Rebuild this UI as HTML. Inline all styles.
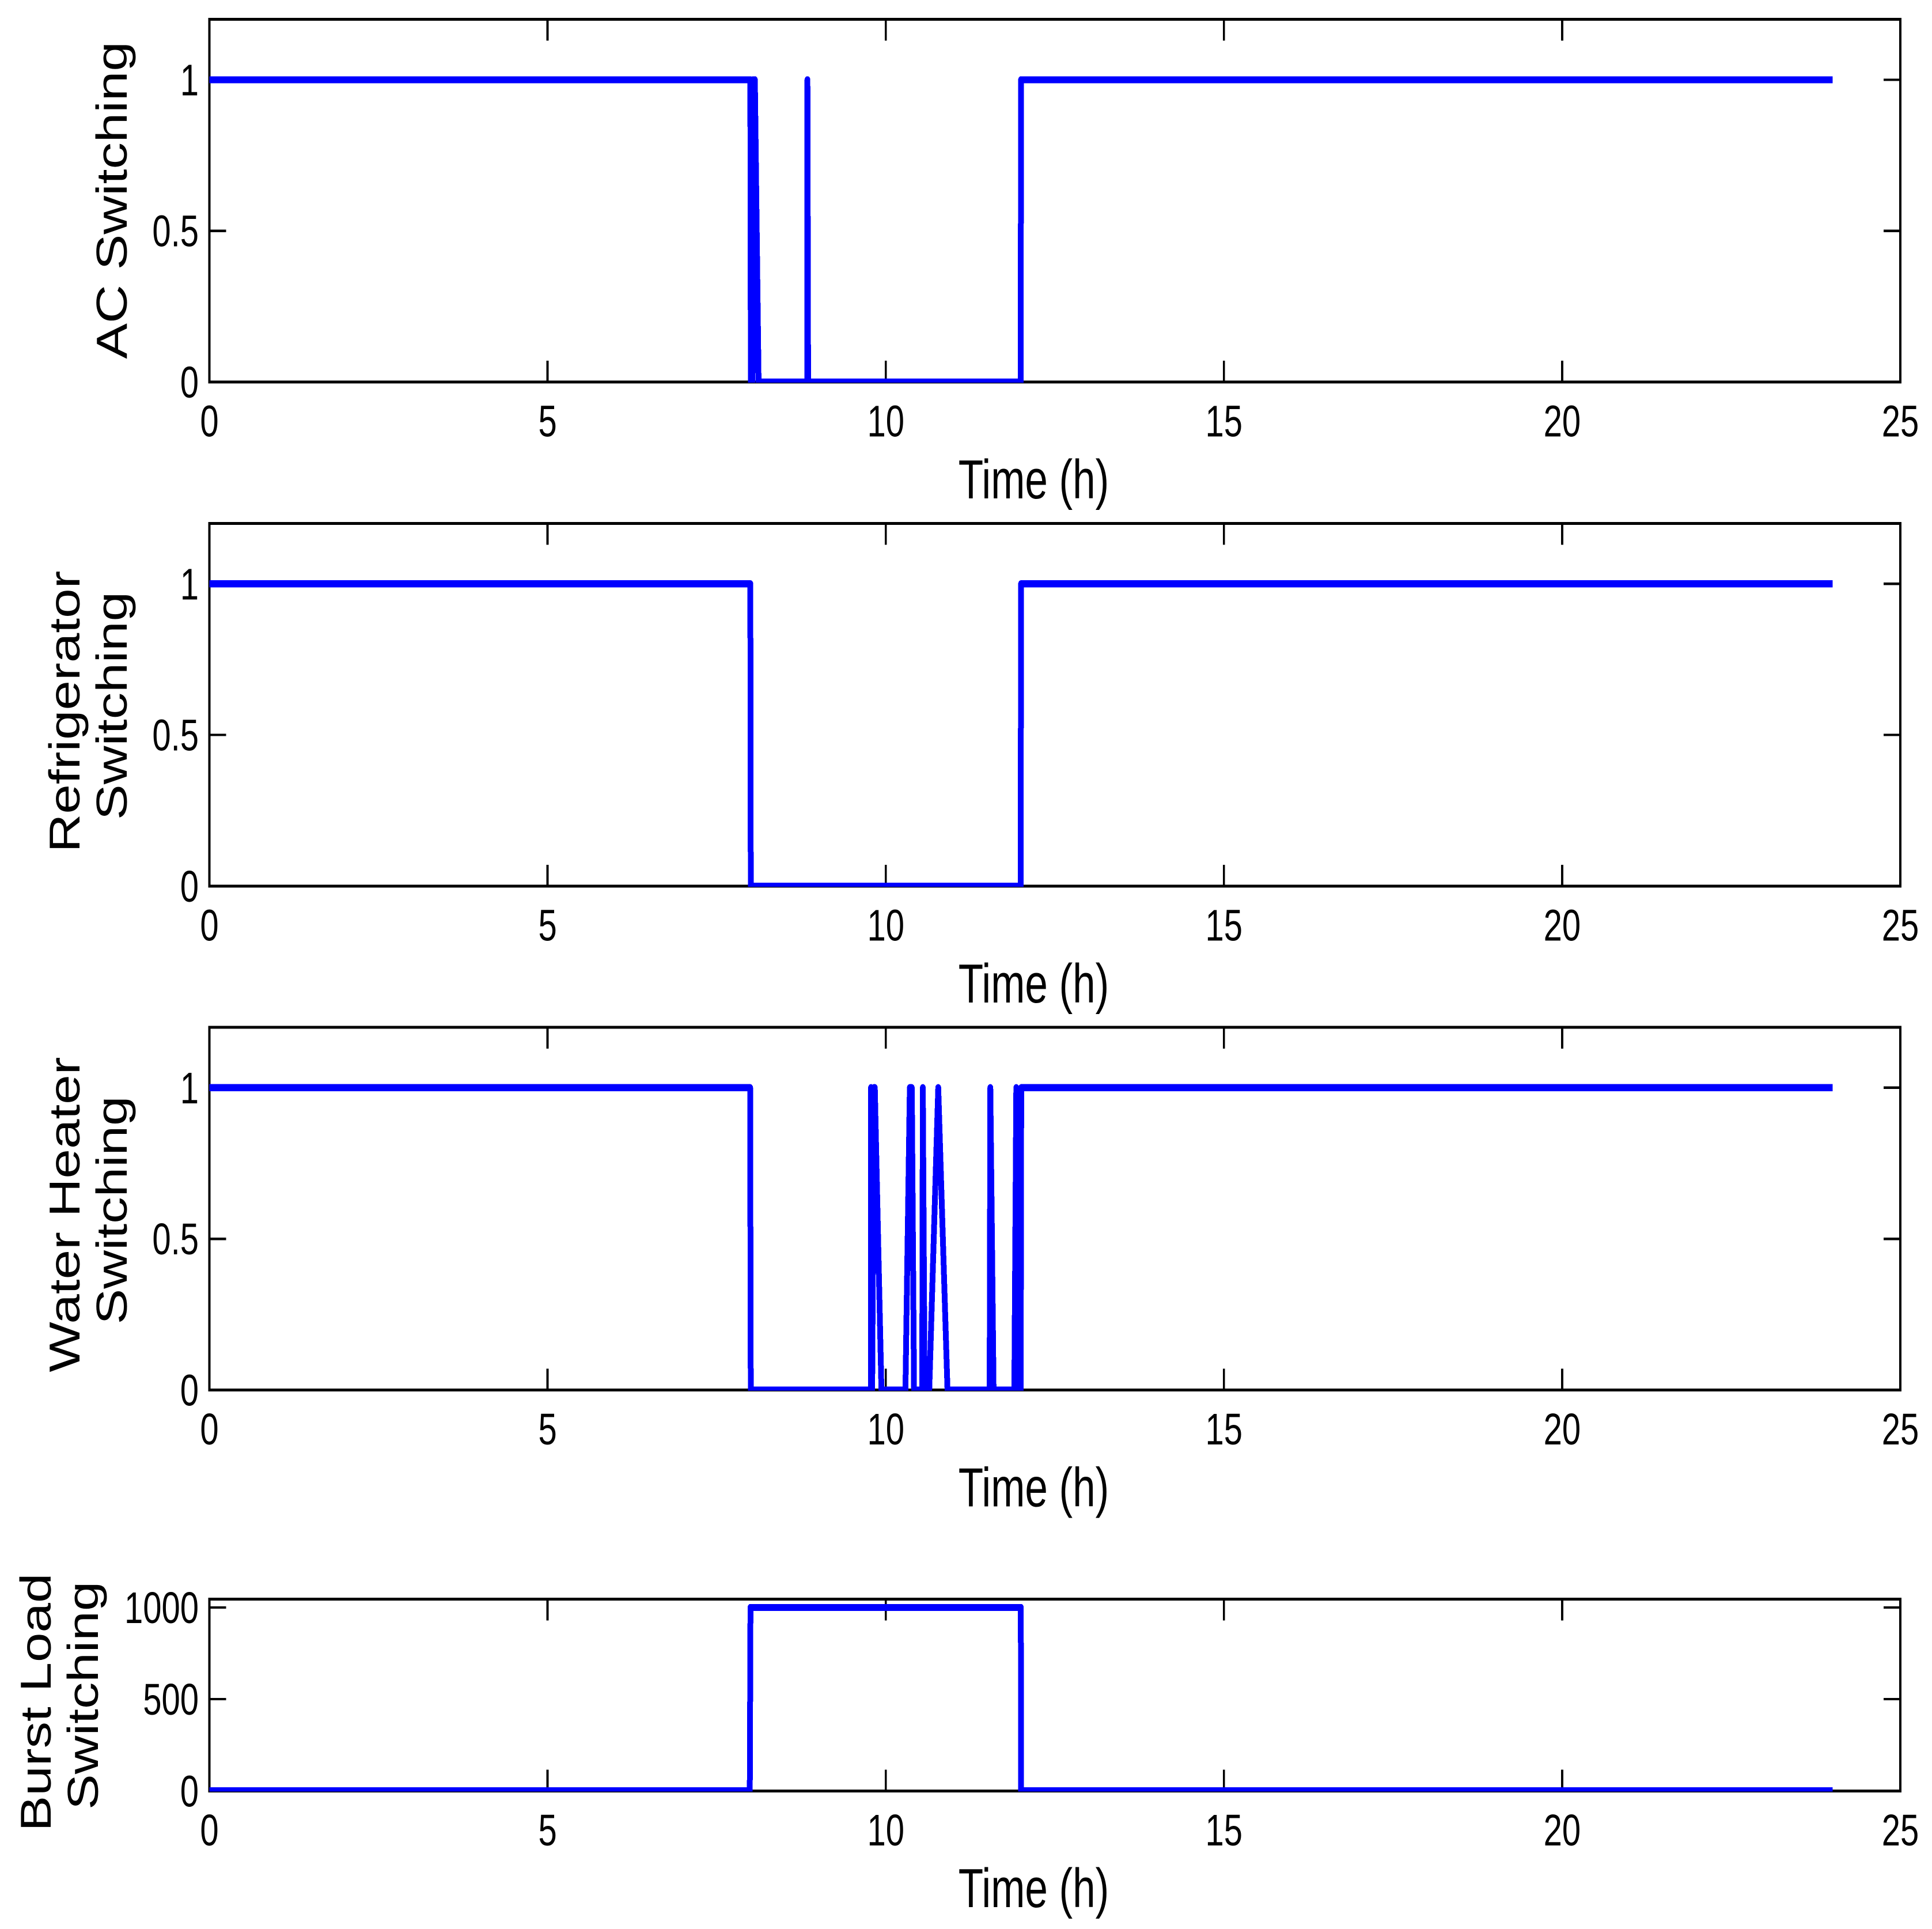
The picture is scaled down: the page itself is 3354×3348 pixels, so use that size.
<!DOCTYPE html>
<html>
<head>
<meta charset="utf-8">
<title>Switching schedules</title>
<style>
html,body{margin:0;padding:0;background:#fff;}
svg{display:block;}
text{font-family:"Liberation Sans",Arial,sans-serif;fill:#000;}
.ytitle{font-size:75px;text-anchor:middle;}
.xtitle{font-size:71px;text-anchor:middle;}
</style>
</head>
<body>
<svg id="chart" xmlns="http://www.w3.org/2000/svg" width="3354" height="3348" viewBox="0 0 3354 3348">
  <rect x="0" y="0" width="3354" height="3348" fill="#fff"/>
  <text class="ytitle" transform="translate(220,347.5) rotate(-90) scale(1.235,1)">AC Switching</text>
  <text class="ytitle" transform="translate(138,1235) rotate(-90) scale(1.235,1)">Refrigerator</text>
  <text class="ytitle" transform="translate(220,1225) rotate(-90) scale(1.235,1)">Switching</text>
  <text class="ytitle" transform="translate(138,2108) rotate(-90) scale(1.235,1)">Water Heater</text>
  <text class="ytitle" transform="translate(220,2100.5) rotate(-90) scale(1.235,1)">Switching</text>
  <text class="ytitle" transform="translate(88,2954.5) rotate(-90) scale(1.235,1)">Burst Load</text>
  <text class="ytitle" transform="translate(170,2942.8) rotate(-90) scale(1.235,1)">Switching</text>
  <text class="xtitle" transform="translate(1794.5,865) scale(1,1.35)">Time (h)</text>
  <text class="xtitle" transform="translate(1794.5,1740) scale(1,1.35)">Time (h)</text>
  <text class="xtitle" transform="translate(1794.5,2614.6) scale(1,1.35)">Time (h)</text>
  <text class="xtitle" transform="translate(1794.5,3310) scale(1,1.35)">Time (h)</text>
</svg>
<script>
// Chart data
const xTicks = [0, 5, 10, 15, 20, 25];
const switchTicks = [0, 0.5, 1];
const burstTicks = [0, 500, 1000];

const acTimes = [0, 7.998, 8.005, 8.03, 8.04, 8.065, 8.12, 8.842, 8.842, 8.852, 11.995, 12.0, 24];
const acValues = [1, 1, 0, 0, 1, 1, 0, 0, 1, 0, 0, 1, 1];

const fridgeTimes = [0, 7.998, 8.004, 11.995, 12.0, 24];
const fridgeValues = [1, 1, 0, 0, 1, 1];

const heaterTimes = [0, 7.995, 8.004, 9.782, 9.782, 9.799, 9.825, 9.838, 9.936, 10.291, 10.356, 10.385, 10.418, 10.539, 10.548, 10.574, 10.643, 10.776, 10.913, 11.536, 11.546, 11.594, 11.901, 11.93, 11.96, 11.995, 12.003, 24];
const heaterValues = [1, 1, 0, 0, 1, 0, 1, 1, 0, 0, 1, 1, 0, 0, 1, 0, 0, 1, 0, 0, 1, 0, 0, 1, 0, 0, 1, 1];

const burstTimes = [0, 7.99, 8.0, 11.997, 12.0, 24];
const burstValues = [0, 0, 1000, 1000, 0, 0];

// Layout
const SVGNS = 'http://www.w3.org/2000/svg';
const chart = document.getElementById('chart');
const plotLeft = 363.5;
const plotRight = 3299;
const xMax = 25;
const STRETCH = 1.3;
const LINE_STRETCH = 1.22;

const panels = [
  {key: 'ac', top: 33.5, bottom: 663, yMax: 1.2, times: acTimes, values: acValues, ticks: switchTicks},
  {key: 'refrigerator', top: 908.3, bottom: 1538, yMax: 1.2, times: fridgeTimes, values: fridgeValues, ticks: switchTicks},
  {key: 'water-heater', top: 1782.8, bottom: 2412.6, yMax: 1.2, times: heaterTimes, values: heaterValues, ticks: switchTicks},
  {key: 'burst', top: 2775.3, bottom: 3108.3, yMax: 1046, times: burstTimes, values: burstValues, ticks: burstTicks}
];

function make(parent, tag, attrs) {
  const el = document.createElementNS(SVGNS, tag);
  for (const k in attrs) el.setAttribute(k, attrs[k]);
  parent.appendChild(el);
  return el;
}
function xScale(t) {
  return plotLeft + (t / xMax) * (plotRight - plotLeft);
}
function yScale(panel, v) {
  return panel.bottom - (v / panel.yMax) * (panel.bottom - panel.top);
}

const defs = make(chart, 'defs', {});

panels.forEach(function (panel) {
  const group = make(chart, 'g', {});
  
  

  // axes box and ticks, drawn in a stretched coordinate system
  const axisGroup = make(group, 'g', {transform: 'scale(1,' + STRETCH + ')', stroke: '#000', fill: 'none', 'shape-rendering': 'crispEdges'});
  const box = make(axisGroup, 'rect', {x: plotLeft, y: panel.top / STRETCH, width: plotRight - plotLeft, height: (panel.bottom - panel.top) / STRETCH, 'stroke-width': 3.8});
  
  

  xTicks.forEach(function (tick) {
    const x = xScale(tick);
    if (tick !== 0 && tick !== xMax) {
      const bottomTick = make(axisGroup, 'line', {x1: x, x2: x, y1: panel.bottom / STRETCH, y2: (panel.bottom - 37) / STRETCH, 'stroke-width': 3.8});
      
      
      const topTick = make(axisGroup, 'line', {x1: x, x2: x, y1: panel.top / STRETCH, y2: (panel.top + 37) / STRETCH, 'stroke-width': 3.8});
      
      
    }
    const label = make(group, 'text', {'font-size': 58, 'text-anchor': 'middle', transform: 'translate(' + x + ',' + (panel.bottom + 94.5) + ') scale(1,1.33)'});
    label.textContent = String(tick);
    
    
  });

  panel.ticks.forEach(function (tick) {
    const y = yScale(panel, tick);
    if (tick !== 0) {
      const leftTick = make(axisGroup, 'line', {x1: plotLeft, x2: plotLeft + 29, y1: y / STRETCH, y2: y / STRETCH, 'stroke-width': 3.2});
      
      
      const rightTick = make(axisGroup, 'line', {x1: plotRight, x2: plotRight - 29, y1: y / STRETCH, y2: y / STRETCH, 'stroke-width': 3.2});
      
      
    }
    const label = make(group, 'text', {'font-size': 58, 'text-anchor': 'end', transform: 'translate(345,' + (y + 27) + ') scale(1,1.33)'});
    label.textContent = String(tick);
    
    
  });

  // clip region for the series, which sits on top of the axes
  const clip = make(defs, 'clipPath', {id: 'clip-' + panel.key});
  make(clip, 'rect', {x: plotLeft - 2, y: panel.top - 2, width: plotRight - plotLeft + 4, height: panel.bottom - panel.top + 3.2});

  const clipGroup = make(group, 'g', {'clip-path': 'url(#clip-' + panel.key + ')'});
  const lineGroup = make(clipGroup, 'g', {transform: 'scale(1,' + LINE_STRETCH + ')'});
  const pts = panel.times.map(function (t, i) {
    return xScale(t).toFixed(2) + ',' + (yScale(panel, panel.values[i]) / LINE_STRETCH).toFixed(2);
  }).join(' ');
  const line = make(lineGroup, 'polyline', {points: pts, fill: 'none', stroke: '#0000ff', 'stroke-width': 10, 'stroke-linejoin': 'round', 'stroke-linecap': 'butt', 'shape-rendering': 'crispEdges'});
  
  
});
</script>
</body>
</html>
